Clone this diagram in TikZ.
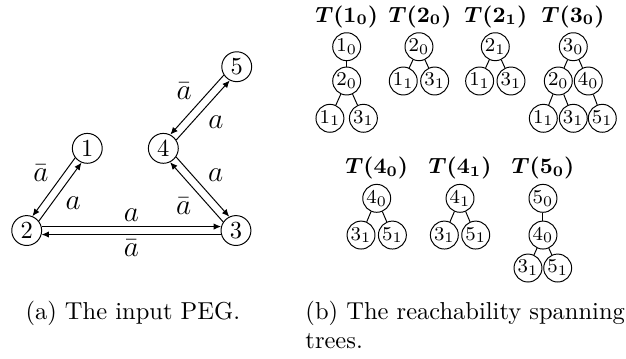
\documentclass[tikz,border=0pt]{standalone}
\usepackage{amsmath}
\usepackage{bm}
\usetikzlibrary{arrows.meta}

\begin{document}
\begin{tikzpicture}[
      vtx/.style={draw,circle,minimum size=12.2pt,inner sep=1pt},
      tvtx/.style={draw,circle,minimum size=11.4pt,inner sep=0.2pt,font=\footnotesize},
      ttl/.style={font=\small},
      lbl/.style={font=\large,inner sep=2pt},
      captxt/.style={anchor=north west,inner sep=0pt,align=left},
      arr/.style={-{Latex[length=3pt,width=2.6pt]}}]
      \useasboundingbox (0,0) rectangle (8.98,5.136);
      \node[vtx] (v1) at (1.252,3.008) {1};
      \node[vtx] (v2) at (0.383,1.829) {2};
      \node[vtx] (v3) at (3.385,1.829) {3};
      \node[vtx] (v4) at (2.343,3.008) {4};
      \node[vtx] (v5) at (3.396,4.179) {5};
      \draw[arr] (v1.218) -- node[lbl,above left] {$\bar a$} (v2.68);
      \draw[arr] (v2.38) -- node[lbl,below right] {$a$} (v1.248);
      \draw[arr] (v2.15) -- node[lbl,above] {$a$} (v3.165);
      \draw[arr] (v3.195) -- node[lbl,below] {$\bar a$} (v2.345);
      \draw[arr] (v4.326) -- node[lbl,above right] {$a$} (v3.116);
      \draw[arr] (v3.146) -- node[lbl,below left] {$\bar a$} (v4.296);
      \draw[arr] (v5.213) -- node[lbl,above left] {$\bar a$} (v4.63);
      \draw[arr] (v4.33) -- node[lbl,below right] {$a$} (v5.243);
      \node[ttl] (ta) at (4.973,4.896) {$\bm{T(1_0)}$};
      \node[ttl] (tb) at (6.025,4.896) {$\bm{T(2_0)}$};
      \node[ttl] (tc) at (7.112,4.896) {$\bm{T(2_1)}$};
      \node[ttl] (td) at (8.220,4.896) {$\bm{T(3_0)}$};
      \node[tvtx] (a0) at (4.973,4.466) {$1_0$};
      \node[tvtx] (a1) at (4.973,3.974) {$2_0$};
      \node[tvtx] (a2) at (4.733,3.439) {$1_1$};
      \node[tvtx] (a3) at (5.213,3.439) {$3_1$};
      \draw (a0) -- (a1);
      \draw (a1) -- (a2);
      \draw (a1) -- (a3);
      \node[tvtx] (b0) at (6.010,4.466) {$2_0$};
      \node[tvtx] (b1) at (5.785,3.974) {$1_1$};
      \node[tvtx] (b2) at (6.235,3.974) {$3_1$};
      \draw (b0) -- (b1);
      \draw (b0) -- (b2);
      \node[tvtx] (c0) at (7.105,4.466) {$2_1$};
      \node[tvtx] (c1) at (6.880,3.974) {$1_1$};
      \node[tvtx] (c2) at (7.330,3.974) {$3_1$};
      \draw (c0) -- (c1);
      \draw (c0) -- (c2);
      \node[tvtx] (d0) at (8.224,4.466) {$3_0$};
      \node[tvtx] (d1) at (8.009,3.974) {$2_0$};
      \node[tvtx] (d2) at (8.439,3.974) {$4_0$};
      \node[tvtx] (d3) at (7.794,3.439) {$1_1$};
      \node[tvtx] (d4) at (8.224,3.439) {$3_1$};
      \node[tvtx] (d5) at (8.640,3.439) {$5_1$};
      \draw (d0) -- (d1);
      \draw (d0) -- (d2);
      \draw (d1) -- (d3);
      \draw (d1) -- (d4);
      \draw (d2) -- (d5);
      \node[ttl] (te) at (5.404,2.721) {$\bm{T(4_0)}$};
      \node[ttl] (tf) at (6.599,2.721) {$\bm{T(4_1)}$};
      \node[ttl] (tg) at (7.789,2.721) {$\bm{T(5_0)}$};
      \node[tvtx] (e0) at (5.404,2.291) {$4_0$};
      \node[tvtx] (e1) at (5.179,1.764) {$3_1$};
      \node[tvtx] (e2) at (5.629,1.764) {$5_1$};
      \draw (e0) -- (e1);
      \draw (e0) -- (e2);
      \node[tvtx] (f0) at (6.599,2.291) {$4_1$};
      \node[tvtx] (f1) at (6.374,1.764) {$3_1$};
      \node[tvtx] (f2) at (6.824,1.764) {$5_1$};
      \draw (f0) -- (f1);
      \draw (f0) -- (f2);
      \node[tvtx] (g0) at (7.789,2.291) {$5_0$};
      \node[tvtx] (g1) at (7.789,1.764) {$4_0$};
      \node[tvtx] (g2) at (7.574,1.291) {$3_1$};
      \node[tvtx] (g3) at (8.000,1.291) {$5_1$};
      \draw (g0) -- (g1);
      \draw (g1) -- (g2);
      \draw (g1) -- (g3);
      \node[captxt] (capa) at (0.359,0.824) {(a) The input PEG.};
      \node[captxt] (capb) at (4.375,0.824) {(b) The reachability spanning\\trees.};
    \end{tikzpicture}
\end{document}
